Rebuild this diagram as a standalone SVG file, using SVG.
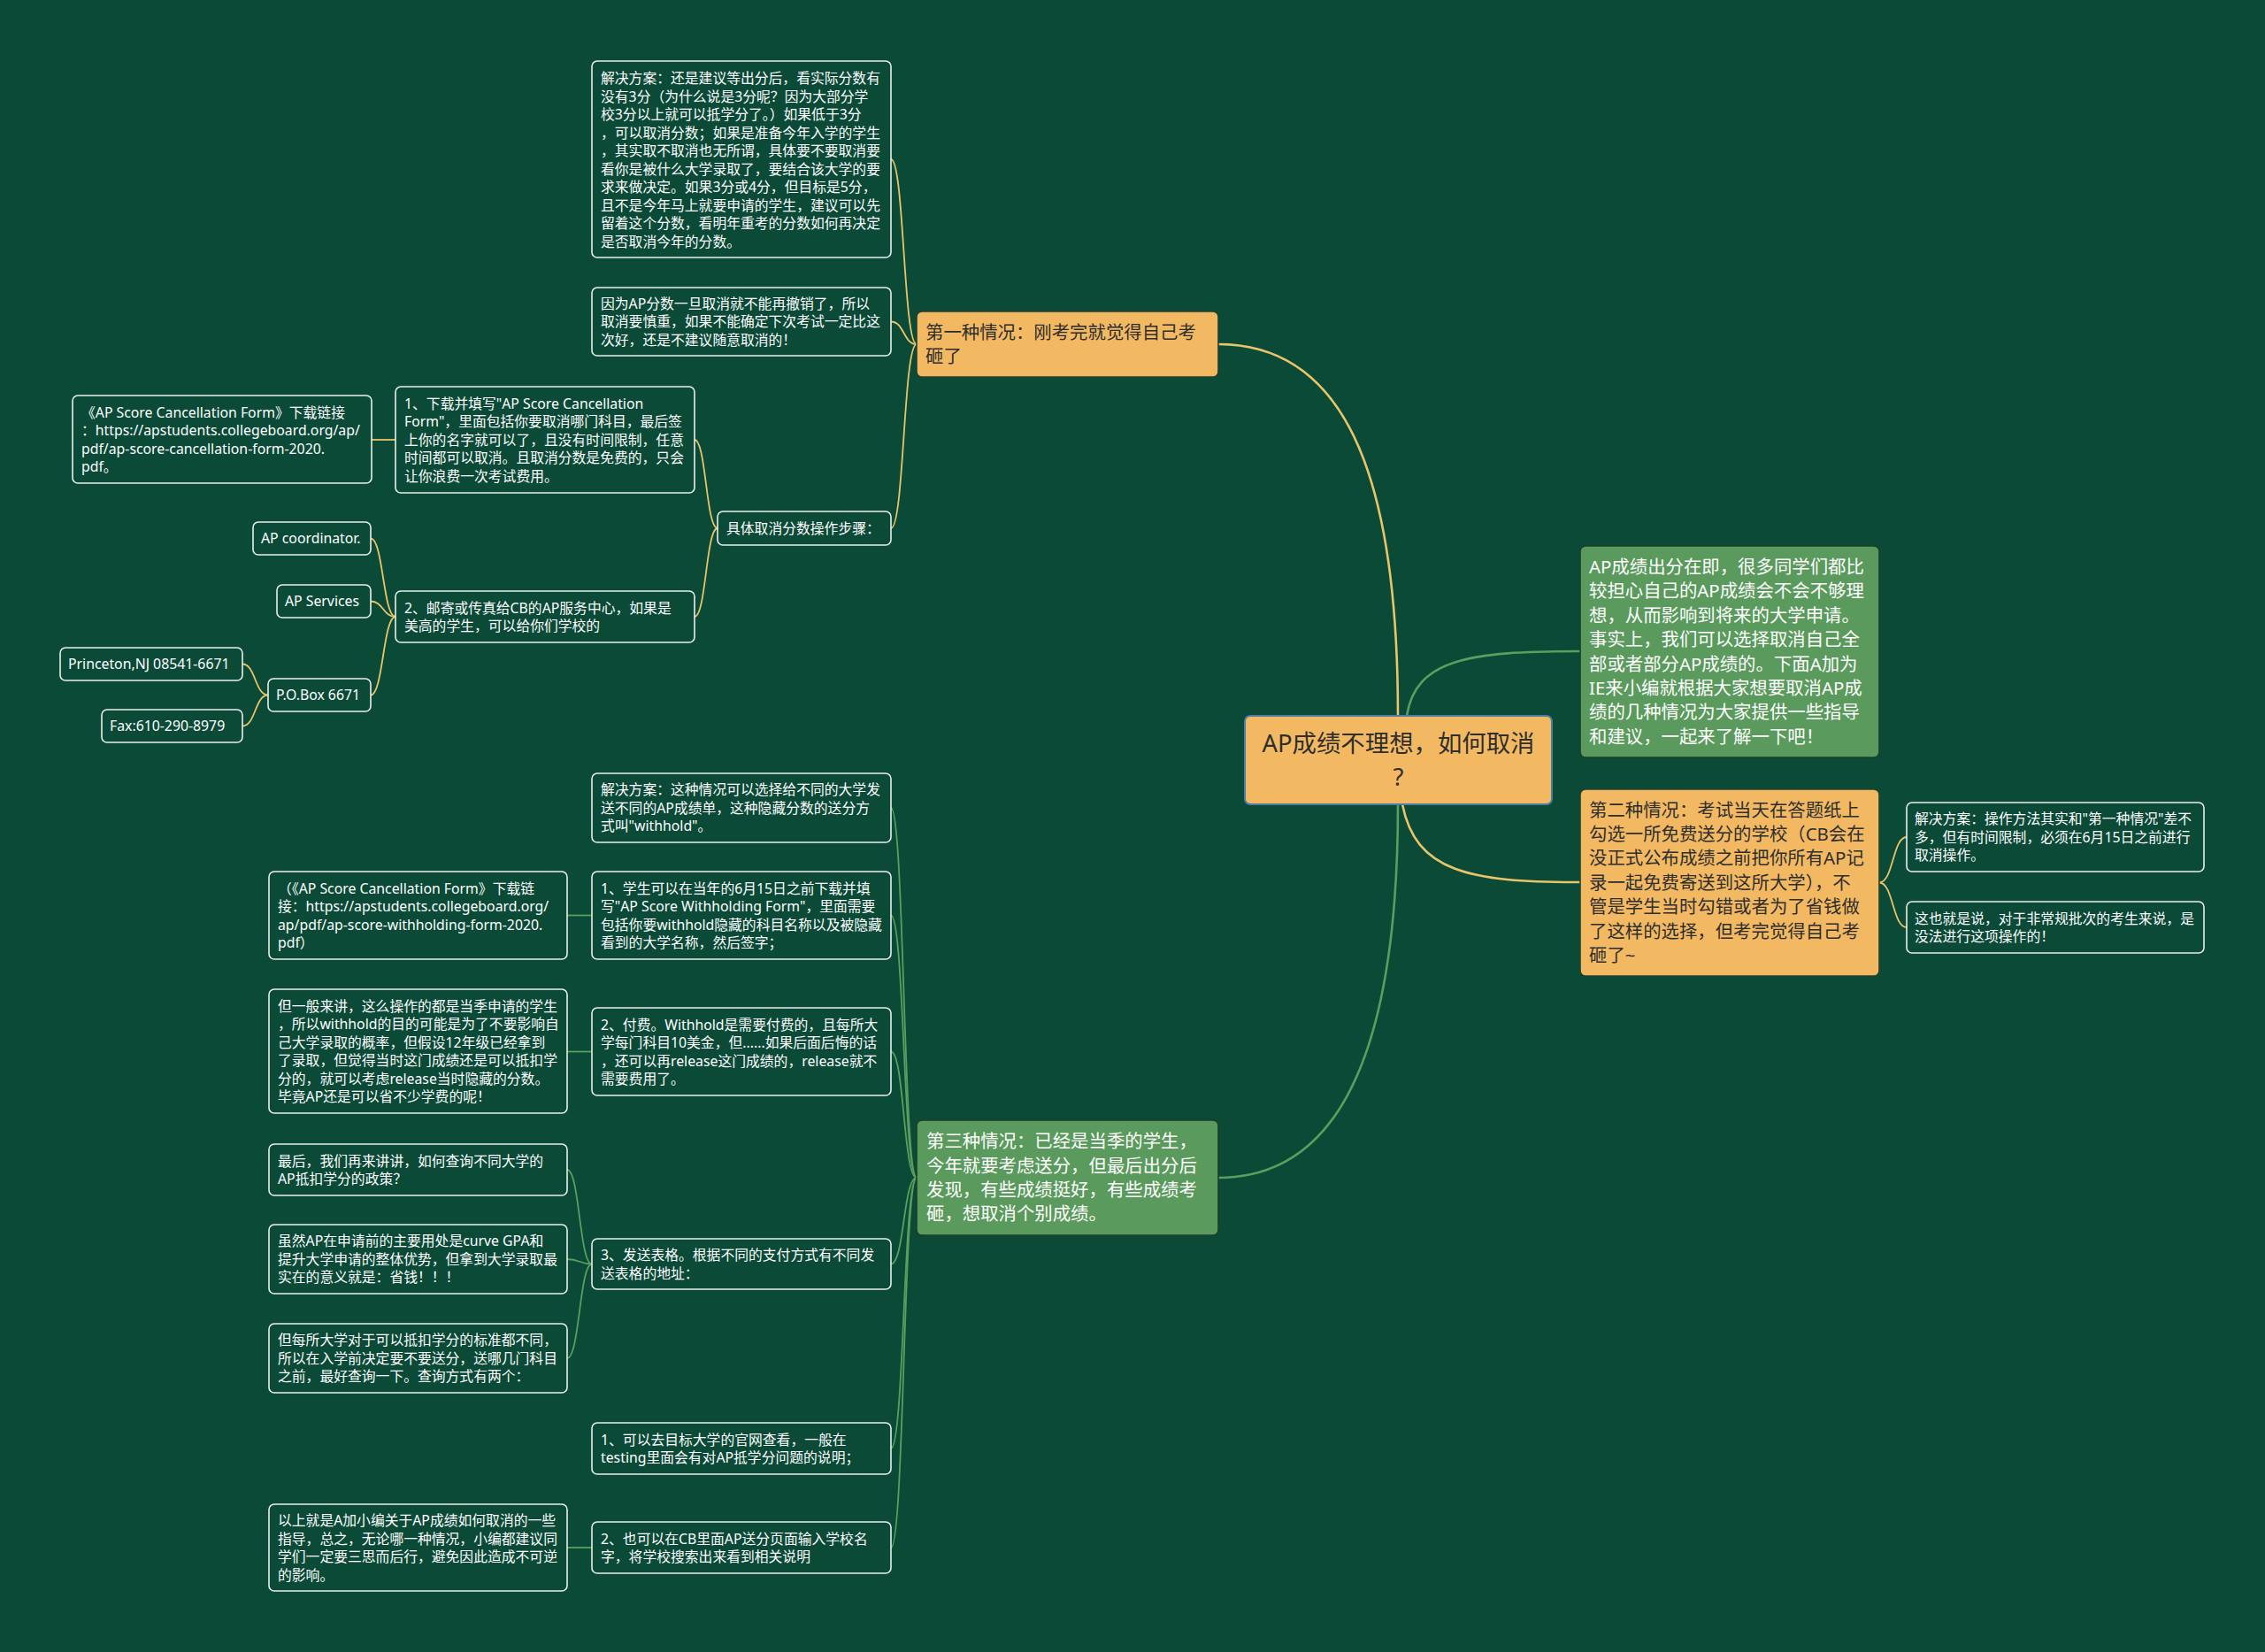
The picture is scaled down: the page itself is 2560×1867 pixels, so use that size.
<svg xmlns="http://www.w3.org/2000/svg" width="2560" height="1867" viewBox="0 0 2560 1867">
<style>
.sb{fill:#0a4a37;stroke:#ecefea;stroke-width:1.6}
.ob{fill:#f2b962;stroke:#23402f;stroke-width:1.6}
.gb{fill:#5a9a5d;stroke:#1d3d2b;stroke-width:1.6}
.cb{fill:#f2b962;stroke:#4d7ca6;stroke-width:2}
text{font-family:"Noto Sans","Noto Sans CJK SC",sans-serif}
.t{font-size:15.8px;fill:#ffffff}
.bt{font-size:20.4px}
.dk{fill:#2e2e2e}
.wt{fill:#ffffff}
.ct{font-size:27.4px;fill:#2e2e2e}
.y{fill:none;stroke:#e8c46a;stroke-width:1.8}
.g{fill:none;stroke:#5c9e5e;stroke-width:1.8}
.m{stroke-width:2.6}
</style>
<rect x="0" y="0" width="2560" height="1867" fill="#0a4a37"/>

<g id="connectors">
<path class="y m" d="M1580,809 C1580,560 1530,389 1377,389"/>
<path class="g m" d="M1590,809 C1600,745 1660,736 1786,736"/>
<path class="y m" d="M1585,909 C1600,985 1660,997 1786,997"/>
<path class="g m" d="M1580,909 C1580,1150 1530,1331 1377,1331"/>

<path class="y" d="M1036,389 C1021,389 1022,180 1007,180"/>
<path class="y" d="M1036,389 C1021,389 1022,363.5 1007,363.5"/>
<path class="y" d="M1036,389 C1021,389 1022,597 1007,597"/>
<path class="y" d="M811,597 C798,597 798,497 785,497"/>
<path class="y" d="M811,597 C798,597 798,697 785,697"/>
<path class="y" d="M447,497 L420,497"/>
<path class="y" d="M447,697 C433,697 433,608.5 419,608.5"/>
<path class="y" d="M447,697 C433,697 433,679.5 419,679.5"/>
<path class="y" d="M447,697 C433,697 433,785.5 419,785.5"/>
<path class="y" d="M303,785.5 C288,785.5 289,750.5 274,750.5"/>
<path class="y" d="M303,785.5 C288,785.5 289,820.5 274,820.5"/>

<path class="y" d="M2124,997.5 C2140,997.5 2139,946 2155,946"/>
<path class="y" d="M2124,997.5 C2140,997.5 2139,1048 2155,1048"/>

<path class="g" d="M1036,1331 C1021,1331 1022,913 1007,913"/>
<path class="g" d="M1036,1331 C1021,1331 1022,1034.5 1007,1034.5"/>
<path class="g" d="M1036,1331 C1021,1331 1022,1188.5 1007,1188.5"/>
<path class="g" d="M1036,1331 C1021,1331 1022,1428.5 1007,1428.5"/>
<path class="g" d="M1036,1331 C1021,1331 1022,1637 1007,1637"/>
<path class="g" d="M1036,1331 C1021,1331 1022,1749 1007,1749"/>
<path class="g" d="M669,1034.5 L641,1034.5"/>
<path class="g" d="M669,1188.5 L641,1188.5"/>
<path class="g" d="M669,1428.5 C655,1428.5 655,1322 641,1322"/>
<path class="g" d="M669,1428.5 C655,1428.5 655,1423 641,1423"/>
<path class="g" d="M669,1428.5 C655,1428.5 655,1535 641,1535"/>
<path class="g" d="M669,1749 L641,1749"/>
</g>

<g id="center">
<rect class="cb" x="1407" y="809" width="347" height="100" rx="6"/>
<text class="ct" text-anchor="middle"><tspan x="1580.5" y="850">AP成绩不理想，如何取消</tspan><tspan x="1580.5" y="888">?</tspan></text>
</g>

<g id="intro">
<rect class="gb" x="1786" y="617" width="338" height="239" rx="6"/>
<text class="bt wt"><tspan x="1796" y="647.9">AP成绩出分在即，很多同学们都比</tspan><tspan x="1796" dy="27.4">较担心自己的AP成绩会不会不够理</tspan><tspan x="1796" dy="27.4">想，从而影响到将来的大学申请。</tspan><tspan x="1796" dy="27.4">事实上，我们可以选择取消自己全</tspan><tspan x="1796" dy="27.4">部或者部分AP成绩的。下面A加为</tspan><tspan x="1796" dy="27.4">IE来小编就根据大家想要取消AP成</tspan><tspan x="1796" dy="27.4">绩的几种情况为大家提供一些指导</tspan><tspan x="1796" dy="27.4">和建议，一起来了解一下吧！</tspan></text>
</g>

<g id="case1">
<rect class="ob" x="1036" y="352" width="341" height="74" rx="6"/>
<text class="bt dk"><tspan x="1046" y="382.6">第一种情况：刚考完就觉得自己考</tspan><tspan x="1046" dy="27.4">砸了</tspan></text>
</g>

<g id="case1-solution">
<rect class="sb" x="669" y="69" width="338" height="222" rx="6"/>
<text class="t"><tspan x="679" y="94">解决方案：还是建议等出分后，看实际分数有</tspan><tspan x="679" dy="20.5">没有3分（为什么说是3分呢？因为大部分学</tspan><tspan x="679" dy="20.5">校3分以上就可以抵学分了。）如果低于3分</tspan><tspan x="679" dy="20.5">，可以取消分数；如果是准备今年入学的学生</tspan><tspan x="679" dy="20.5">，其实取不取消也无所谓，具体要不要取消要</tspan><tspan x="679" dy="20.5">看你是被什么大学录取了，要结合该大学的要</tspan><tspan x="679" dy="20.5">求来做决定。如果3分或4分，但目标是5分，</tspan><tspan x="679" dy="20.5">且不是今年马上就要申请的学生，建议可以先</tspan><tspan x="679" dy="20.5">留着这个分数，看明年重考的分数如何再决定</tspan><tspan x="679" dy="20.5">是否取消今年的分数。</tspan></text>
</g>

<g id="case1-warning">
<rect class="sb" x="669" y="325" width="338" height="77" rx="6"/>
<text class="t"><tspan x="679" y="348.7">因为AP分数一旦取消就不能再撤销了，所以</tspan><tspan x="679" dy="20.5">取消要慎重，如果不能确定下次考试一定比这</tspan><tspan x="679" dy="20.5">次好，还是不建议随意取消的！</tspan></text>
</g>

<g id="case1-steps">
<rect class="sb" x="811" y="578" width="196" height="38" rx="6"/>
<text class="t" x="821" y="602.7">具体取消分数操作步骤：</text>
</g>

<g id="step1">
<rect class="sb" x="447" y="437" width="338" height="120" rx="6"/>
<text class="t"><tspan x="457" y="461.7">1、下载并填写"AP Score Cancellation</tspan><tspan x="457" dy="20.5">Form"，里面包括你要取消哪门科目，最后签</tspan><tspan x="457" dy="20.5">上你的名字就可以了，且没有时间限制，任意</tspan><tspan x="457" dy="20.5">时间都可以取消。且取消分数是免费的，只会</tspan><tspan x="457" dy="20.5">让你浪费一次考试费用。</tspan></text>
</g>

<g id="step1-link">
<rect class="sb" x="82" y="447" width="338" height="99" rx="6"/>
<text class="t"><tspan x="92" y="471.5">《AP Score Cancellation Form》下载链接</tspan><tspan x="92" dy="20.5">：https://apstudents.collegeboard.org/ap/</tspan><tspan x="92" dy="20.5">pdf/ap-score-cancellation-form-2020.</tspan><tspan x="92" dy="20.5">pdf。</tspan></text>
</g>

<g id="step2">
<rect class="sb" x="447" y="668" width="338" height="58" rx="6"/>
<text class="t"><tspan x="457" y="692.5">2、邮寄或传真给CB的AP服务中心，如果是</tspan><tspan x="457" dy="20.5">美高的学生，可以给你们学校的</tspan></text>
</g>

<g id="ap-coordinator">
<rect class="sb" x="286" y="590" width="133" height="37" rx="6"/>
<text class="t" x="295" y="614.2">AP coordinator.</text>
</g>

<g id="ap-services">
<rect class="sb" x="313" y="661" width="106" height="37" rx="6"/>
<text class="t" x="322" y="685.2">AP Services</text>
</g>

<g id="po-box">
<rect class="sb" x="303" y="767" width="116" height="37" rx="6"/>
<text class="t" x="312" y="791.2">P.O.Box 6671</text>
</g>

<g id="princeton">
<rect class="sb" x="68" y="732" width="206" height="37" rx="6"/>
<text class="t" x="77" y="756.2">Princeton,NJ 08541-6671</text>
</g>

<g id="fax">
<rect class="sb" x="115" y="802" width="159" height="37" rx="6"/>
<text class="t" x="124" y="826.2">Fax:610-290-8979</text>
</g>

<g id="case2">
<rect class="ob" x="1786" y="892" width="338" height="211" rx="6"/>
<text class="bt dk"><tspan x="1796" y="922.6">第二种情况：考试当天在答题纸上</tspan><tspan x="1796" dy="27.4">勾选一所免费送分的学校（CB会在</tspan><tspan x="1796" dy="27.4">没正式公布成绩之前把你所有AP记</tspan><tspan x="1796" dy="27.4">录一起免费寄送到这所大学），不</tspan><tspan x="1796" dy="27.4">管是学生当时勾错或者为了省钱做</tspan><tspan x="1796" dy="27.4">了这样的选择，但考完觉得自己考</tspan><tspan x="1796" dy="27.4">砸了~</tspan></text>
</g>

<g id="case2-solution">
<rect class="sb" x="2155" y="907" width="336" height="78" rx="6"/>
<text class="t"><tspan x="2164" y="931.2">解决方案：操作方法其实和"第一种情况"差不</tspan><tspan x="2164" dy="20.5">多，但有时间限制，必须在6月15日之前进行</tspan><tspan x="2164" dy="20.5">取消操作。</tspan></text>
</g>

<g id="case2-note">
<rect class="sb" x="2155" y="1019" width="336" height="58" rx="6"/>
<text class="t"><tspan x="2164" y="1043.5">这也就是说，对于非常规批次的考生来说，是</tspan><tspan x="2164" dy="20.5">没法进行这项操作的！</tspan></text>
</g>

<g id="case3">
<rect class="gb" x="1036" y="1266" width="341" height="130" rx="6"/>
<text class="bt wt"><tspan x="1047" y="1297.2">第三种情况：已经是当季的学生，</tspan><tspan x="1047" dy="27.4">今年就要考虑送分，但最后出分后</tspan><tspan x="1047" dy="27.4">发现，有些成绩挺好，有些成绩考</tspan><tspan x="1047" dy="27.4">砸，想取消个别成绩。</tspan></text>
</g>

<g id="case3-solution">
<rect class="sb" x="669" y="874" width="338" height="78" rx="6"/>
<text class="t"><tspan x="679" y="898.2">解决方案：这种情况可以选择给不同的大学发</tspan><tspan x="679" dy="20.5">送不同的AP成绩单，这种隐藏分数的送分方</tspan><tspan x="679" dy="20.5">式叫"withhold"。</tspan></text>
</g>

<g id="withhold-step1">
<rect class="sb" x="669" y="985" width="338" height="99" rx="6"/>
<text class="t"><tspan x="679" y="1009.5">1、学生可以在当年的6月15日之前下载并填</tspan><tspan x="679" dy="20.5">写"AP Score Withholding Form"，里面需要</tspan><tspan x="679" dy="20.5">包括你要withhold隐藏的科目名称以及被隐藏</tspan><tspan x="679" dy="20.5">看到的大学名称，然后签字；</tspan></text>
</g>

<g id="withhold-link">
<rect class="sb" x="304" y="985" width="337" height="99" rx="6"/>
<text class="t"><tspan x="314" y="1009.5">（《AP Score Cancellation Form》下载链</tspan><tspan x="314" dy="20.5">接：https://apstudents.collegeboard.org/</tspan><tspan x="314" dy="20.5">ap/pdf/ap-score-withholding-form-2020.</tspan><tspan x="314" dy="20.5">pdf）</tspan></text>
</g>

<g id="withhold-step2">
<rect class="sb" x="669" y="1139" width="338" height="99" rx="6"/>
<text class="t"><tspan x="679" y="1163.5">2、付费。Withhold是需要付费的，且每所大</tspan><tspan x="679" dy="20.5">学每门科目10美金，但......如果后面后悔的话</tspan><tspan x="679" dy="20.5">，还可以再release这门成绩的，release就不</tspan><tspan x="679" dy="20.5">需要费用了。</tspan></text>
</g>

<g id="withhold-note">
<rect class="sb" x="304" y="1118" width="337" height="140" rx="6"/>
<text class="t"><tspan x="314" y="1142.5">但一般来讲，这么操作的都是当季申请的学生</tspan><tspan x="314" dy="20.5">，所以withhold的目的可能是为了不要影响自</tspan><tspan x="314" dy="20.5">己大学录取的概率，但假设12年级已经拿到</tspan><tspan x="314" dy="20.5">了录取，但觉得当时这门成绩还是可以抵扣学</tspan><tspan x="314" dy="20.5">分的，就可以考虑release当时隐藏的分数。</tspan><tspan x="314" dy="20.5">毕竟AP还是可以省不少学费的呢！</tspan></text>
</g>

<g id="withhold-step3">
<rect class="sb" x="669" y="1400" width="338" height="57" rx="6"/>
<text class="t"><tspan x="679" y="1424">3、发送表格。根据不同的支付方式有不同发</tspan><tspan x="679" dy="20.5">送表格的地址：</tspan></text>
</g>

<g id="policy-question">
<rect class="sb" x="304" y="1293" width="337" height="58" rx="6"/>
<text class="t"><tspan x="314" y="1317.5">最后，我们再来讲讲，如何查询不同大学的</tspan><tspan x="314" dy="20.5">AP抵扣学分的政策？</tspan></text>
</g>

<g id="policy-money">
<rect class="sb" x="304" y="1384" width="337" height="78" rx="6"/>
<text class="t"><tspan x="314" y="1408.2">虽然AP在申请前的主要用处是curve GPA和</tspan><tspan x="314" dy="20.5">提升大学申请的整体优势，但拿到大学录取最</tspan><tspan x="314" dy="20.5">实在的意义就是：省钱！！！</tspan></text>
</g>

<g id="policy-standard">
<rect class="sb" x="304" y="1496" width="337" height="78" rx="6"/>
<text class="t"><tspan x="314" y="1520.2">但每所大学对于可以抵扣学分的标准都不同，</tspan><tspan x="314" dy="20.5">所以在入学前决定要不要送分，送哪几门科目</tspan><tspan x="314" dy="20.5">之前，最好查询一下。查询方式有两个：</tspan></text>
</g>

<g id="query1">
<rect class="sb" x="669" y="1608" width="338" height="58" rx="6"/>
<text class="t"><tspan x="679" y="1632.5">1、可以去目标大学的官网查看，一般在</tspan><tspan x="679" dy="20.5">testing里面会有对AP抵学分问题的说明；</tspan></text>
</g>

<g id="query2">
<rect class="sb" x="669" y="1720" width="338" height="58" rx="6"/>
<text class="t"><tspan x="679" y="1744.5">2、也可以在CB里面AP送分页面输入学校名</tspan><tspan x="679" dy="20.5">字，将学校搜索出来看到相关说明</tspan></text>
</g>

<g id="summary">
<rect class="sb" x="304" y="1700" width="337" height="98" rx="6"/>
<text class="t"><tspan x="314" y="1724">以上就是A加小编关于AP成绩如何取消的一些</tspan><tspan x="314" dy="20.5">指导，总之，无论哪一种情况，小编都建议同</tspan><tspan x="314" dy="20.5">学们一定要三思而后行，避免因此造成不可逆</tspan><tspan x="314" dy="20.5">的影响。</tspan></text>
</g>
</svg>
